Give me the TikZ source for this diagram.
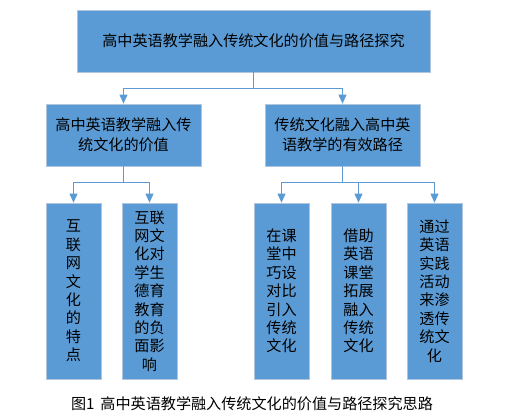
\documentclass[tikz,border=0pt]{standalone}
\usepackage{fontspec}
\setmainfont{Noto Sans CJK SC}
\usetikzlibrary{arrows.meta,positioning,shadows}
\definecolor{boxfill}{RGB}{91,155,213}
\definecolor{boxline}{RGB}{176,198,222}
\definecolor{linkc}{RGB}{91,155,213}

\begin{document}
\begin{tikzpicture}[
  every node/.style={font=\fontsize{12.9pt}{15.7pt}\selectfont},
  n/.style={draw=boxline, fill=boxfill, line width=0.6pt, align=center, inner sep=2pt,
    drop shadow={opacity=0.2, shadow xshift=1.2pt, shadow yshift=-1.2pt}},
  headn/.style={n, minimum width=10.59cm, minimum height=1.86cm},
  midn/.style={n, minimum width=4.65cm, minimum height=1.86cm,
    font=\fontsize{12.9pt}{17pt}\selectfont},
  leafn/.style={n, minimum width=1.65cm, minimum height=5.28cm},
  link/.style={draw=linkc, line width=0.7pt},
  arr/.style={link, -{Triangle[width=2.4mm,length=2.7mm]}}]
\useasboundingbox (0,0) rectangle (15.78,12.54);
\node[headn] (root) at (7.605,11.31) {高中英语教学融入传统文化的价值与路径探究};
\node[midn] (v) at (3.705,8.49) {高中英语教学融入传\\统文化的价值};
\node[midn] (p) at (10.275,8.49) {传统文化融入高中英\\语教学的有效路径};
\node[leafn] (v1) at (2.205,3.81) {互\\联\\网\\文\\化\\的\\特\\点};
\node[leafn] (v2) at (4.485,3.81) {互联\\网文\\化对\\学生\\德育\\教育\\的负\\面影\\响};
\node[leafn] (p1) at (8.445,3.81) {在课\\堂中\\巧设\\对比\\引入\\传统\\文化};
\node[leafn] (p2) at (10.755,3.81) {借助\\英语\\课堂\\拓展\\融入\\传统\\文化};
\node[leafn] (p3) at (13.035,3.81) {通过\\英语\\实践\\活动\\来渗\\透传\\统文\\化};
\node (cap) at (7.56,0.42) {图1\, 高中英语教学融入传统文化的价值与路径探究思路};
\coordinate (j0) at (7.605,9.9);
\coordinate (jv) at (3.705,7.08);
\coordinate (jp) at (10.275,7.08);
\draw[link] (root) -- (j0);
\draw[arr] (j0) -| (v); \draw[arr] (j0) -| (p);
\draw[link] (v) -- (jv); \draw[link] (p) -- (jp);
\draw[arr] (jv) -| (v1); \draw[arr] (jv) -| (v2);
\draw[arr] (jp) -| (p1); \draw[arr] (jp) -| (p2); \draw[arr] (jp) -| (p3);
\end{tikzpicture}
\end{document}
